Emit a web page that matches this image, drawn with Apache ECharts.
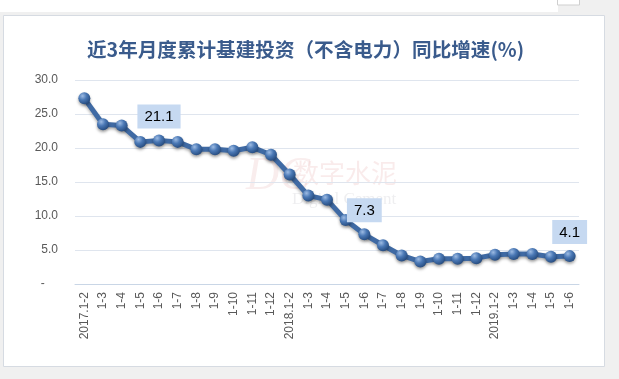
<!DOCTYPE html>
<html><head><meta charset="utf-8">
<script src="https://cdn.jsdelivr.net/npm/echarts@6/dist/echarts.min.js"></script>
<style>html,body{margin:0;padding:0;background:#f0f0f0;}#c{width:619px;height:379px;}</style>
</head><body><div id="c"></div>
<script>
const categories = ['2017.1-2','1-3','1-4','1-5','1-6','1-7','1-8','1-9','1-10','1-11','1-12',
  '2018.1-2','1-3','1-4','1-5','1-6','1-7','1-8','1-9','1-10','1-11','1-12',
  '2019.1-2','1-3','1-4','1-5','1-6'];
const growth = [27.3,23.5,23.3,20.9,21.1,20.9,19.8,19.8,19.6,20.1,19.0,
  16.1,13.0,12.4,9.4,7.3,5.7,4.2,3.3,3.7,3.7,3.8,
  4.3,4.4,4.4,4.0,4.1];
const labeledIdx = [4,15,26];
const titleText = '近3年月度累计基建投资（不含电力）同比增速(%)';

const chart = echarts.init(document.getElementById('c'), null, {renderer:'canvas'});
const markerColor = new echarts.graphic.RadialGradient(0.35,0.3,0.75,[
  {offset:0,color:'#9dbbe3'},{offset:0.45,color:'#4a78b5'},{offset:1,color:'#24497c'}]);
chart.setOption({
  animation:false,
  backgroundColor:'#f0f0f0',
  graphic:[
    {type:'rect',z:-10,shape:{x:0,y:0,width:558,height:12},style:{fill:'#ffffff'}},
    {type:'rect',z:-10,shape:{x:557.5,y:-1,width:22,height:6},style:{fill:'#ffffff',stroke:'#cfcfcf'}},
    {type:'rect',z:-10,shape:{x:3.5,y:15.5,width:601,height:351},style:{fill:'#ffffff',stroke:'#d6dbe2',lineWidth:1}},
    {type:'text',z:-5,left:246,top:154,style:{text:'DC',font:'italic 46px "Liberation Serif"',fill:'rgba(215,140,140,0.16)'}},
    {type:'text',z:-5,left:293,top:160,style:{text:'数字水泥',font:'26px "Noto Sans CJK SC"',fill:'rgba(215,130,130,0.16)'}},
    {type:'text',z:-5,left:292,top:191,style:{text:'Digital Cement',font:'17px "Liberation Serif"',fill:'rgba(150,150,160,0.16)'}}
  ],
  title:{text:titleText,left:82,top:35,
    textStyle:{fontFamily:'"Noto Sans CJK SC"',fontWeight:'bold',fontSize:19.6,color:'#3a5b8c'}},
  grid:{left:75,right:40,top:80,bottom:95,containLabel:false},
  xAxis:{type:'category',data:categories,boundaryGap:true,
    axisLine:{lineStyle:{color:'#c9d6e6',width:1}},axisTick:{show:false},
    axisLabel:{rotate:90,interval:0,margin:8,color:'#595959',fontSize:12,fontFamily:'"Liberation Sans", Arial'}},
  yAxis:{type:'value',min:0,max:30,interval:5,
    axisLine:{show:false},axisTick:{show:false},
    splitLine:{lineStyle:{color:'#dfe5ee',width:1}},
    axisLabel:{margin:17,color:'#595959',fontSize:12,fontFamily:'"Liberation Sans", Arial',
      formatter:v=> v===0 ? '-    ' : v.toFixed(1)}},
  series:[{type:'line',data:growth.map((v,i)=>labeledIdx.includes(i)?{value:v,label:{show:true}}:v),
    symbol:'circle',symbolSize:12,
    lineStyle:{color:'#3f6aa4',width:5,shadowColor:'rgba(0,0,0,0.3)',shadowBlur:3,shadowOffsetY:2},
    itemStyle:{color:markerColor,borderWidth:0,shadowColor:'rgba(0,0,0,0.35)',shadowBlur:3,shadowOffsetY:2},
    label:{show:false,position:'top',distance:6,color:'#000',fontSize:15,fontFamily:'"Liberation Sans", Arial',
      backgroundColor:'#c6d9f1',padding:[5,7,4,7],formatter:p=>p.value.toFixed(1)}
  }]
});
</script></body></html>
